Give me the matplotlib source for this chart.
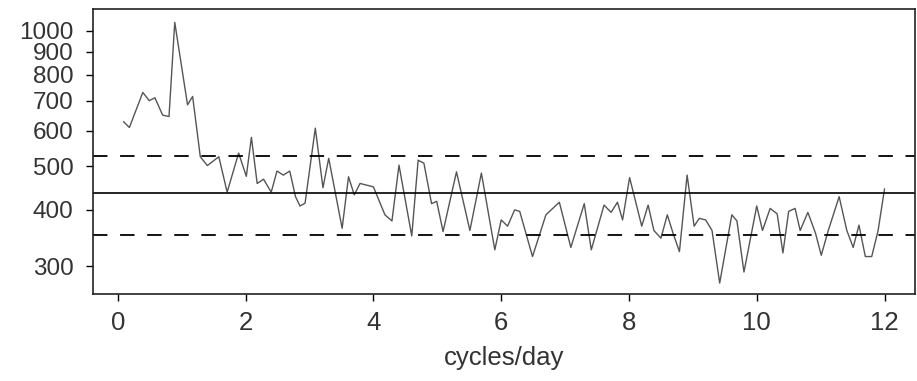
import matplotlib
matplotlib.use("Agg")
import matplotlib.pyplot as plt
from matplotlib.ticker import FixedLocator, NullLocator, FixedFormatter

# spectrum vertices (frequency in cycles/day, power)
freq = [0.09, 0.18, 0.39, 0.49, 0.58, 0.70, 0.80, 0.89, 1.09, 1.17, 1.29,
        1.40, 1.58, 1.71, 1.89, 2.01, 2.09, 2.18, 2.28, 2.40, 2.49, 2.59,
        2.69, 2.78, 2.85, 2.93, 3.09, 3.21, 3.30, 3.51, 3.61, 3.70, 3.79,
        4.00, 4.18, 4.29, 4.40, 4.60, 4.70, 4.79, 4.91, 4.99, 5.09, 5.30,
        5.51, 5.69, 5.90, 6.00, 6.10, 6.21, 6.29, 6.49, 6.70, 6.91, 7.09,
        7.30, 7.41, 7.61, 7.72, 7.82, 7.90, 8.01, 8.20, 8.30, 8.39, 8.50,
        8.60, 8.69, 8.79, 8.91, 9.02, 9.10, 9.20, 9.30, 9.42, 9.61, 9.69,
        9.80, 10.00, 10.09, 10.21, 10.32, 10.41, 10.50, 10.60, 10.68, 10.80,
        10.92, 11.01, 11.12, 11.29, 11.41, 11.51, 11.60, 11.70, 11.80,
        11.90, 12.00]
power = [628, 610, 730, 700, 710, 650, 645, 1045, 685, 715, 525,
         502, 525, 438, 535, 475, 580, 458, 468, 438, 488, 478,
         488, 428, 408, 414, 608, 448, 521, 364, 474, 432, 458,
         450, 390, 378, 503, 350, 516, 508, 413, 418, 358, 486,
         360, 483, 326, 380, 368, 400, 397, 315, 390, 416, 330,
         413, 326, 410, 395, 416, 380, 472, 368, 410, 360, 346,
         390, 355, 323, 478, 368, 383, 380, 360, 275, 390, 378,
         291, 408, 360, 403, 392, 321, 397, 403, 360, 395,
         355, 317, 360, 428, 360, 330, 370, 315, 315,
         360, 445]

mean_level = 436
band = [352, 527]

yticks = [300, 400, 500, 600, 700, 800, 900, 1000]
xticks = [0, 2, 4, 6, 8, 10, 12]

plt.rcParams['font.family'] = ['Liberation Sans', 'DejaVu Sans']

fig = plt.figure(figsize=(9.17, 3.81), dpi=100)
ax = fig.add_axes([0.1014, 0.2283, 0.8966, 0.7481])

ax.plot(freq, power, color='#555555', lw=1.0)
ax.axhline(mean_level, color='black', lw=1.2)
for b in band:
    ax.axhline(b, color='black', lw=1.3, linestyle=(0, (8, 7)))

ax.set_yscale('log')
ax.set_xlim(-0.39, 12.48)
ax.set_ylim(260, 1119)
ax.yaxis.set_major_locator(FixedLocator(yticks))
ax.yaxis.set_major_formatter(FixedFormatter([str(v) for v in yticks]))
ax.yaxis.set_minor_locator(NullLocator())
ax.set_xticks(xticks)
ax.set_xticklabels([str(v) for v in xticks])

ax.tick_params(axis='y', length=5, width=1, pad=9, labelsize=17.5, labelcolor='#333333')
ax.tick_params(axis='x', length=5, width=1, pad=7, labelsize=18.5, labelcolor='#333333')
for s in ax.spines.values():
    s.set_linewidth(1.2)
    s.set_color('#222222')

ax.set_xlabel('cycles/day', fontsize=18.5, color='#333333', labelpad=8)

fig.savefig('out.png', dpi=100)
